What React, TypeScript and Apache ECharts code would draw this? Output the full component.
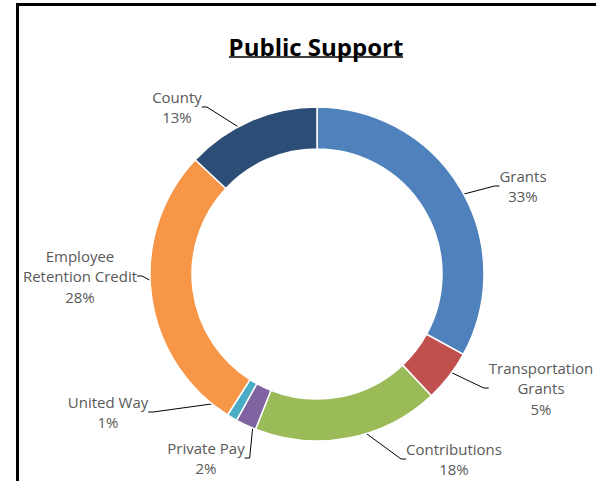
import React, { useEffect, useRef } from "react";
import * as echarts from "echarts";

const categories = [
  "Grants",
  "Transportation Grants",
  "Contributions",
  "Private Pay",
  "United Way",
  "Employee Retention Credit",
  "County",
];
const values = [33, 5, 18, 2, 1, 28, 13];
const colors = ["#4F81BD", "#C0504D", "#9BBB59", "#8064A2", "#4BACC6", "#F79646", "#2C4D75"];
const wrappedNames: Record<string, string> = {
  "Transportation Grants": "Transportation\nGrants",
  "Employee Retention Credit": "Employee\nRetention Credit",
};
// label block centers (layout only)
const labelCenters: [number, number][] = [
  [523, 186],
  [541, 388],
  [454, 459],
  [206, 458],
  [108, 412],
  [80, 276],
  [177, 107],
];

const CENTER: [number, number] = [317, 274];

export default function App() {
  const ref = useRef<HTMLDivElement>(null);
  useEffect(() => {
    if (!ref.current) return;
    const chart = echarts.init(ref.current, undefined, { renderer: "svg" });
    const data = categories.map((name, i) => ({
      name,
      value: values[i],
      itemStyle: { color: colors[i] },
    }));
    chart.setOption({
      animation: false,
      title: {
        text: "Public Support",
        left: 316,
        top: 34,
        padding: 0,
        textAlign: "center",
        textStyle: {
          fontFamily: "Open Sans",
          fontSize: 24,
          fontWeight: "bold",
          color: "#000",
        },
      },
      graphic: [
        {
          type: "rect",
          shape: { x: 17.5, y: 4.5, width: 800, height: 800 },
          style: { fill: "none", stroke: "#000", lineWidth: 3 },
          silent: true,
        },
        {
          type: "line",
          shape: { x1: 229, y1: 57, x2: 403, y2: 57 },
          style: { stroke: "#000", lineWidth: 1.5 },
          silent: true,
        },
      ],
      series: [
        {
          type: "pie",
          center: CENTER,
          radius: [125, 167],
          startAngle: 90,
          clockwise: true,
          silent: true,
          avoidLabelOverlap: false,
          label: { show: false },
          labelLine: { show: false },
          itemStyle: { borderColor: "#fff", borderWidth: 1.5 },
          emphasis: { disabled: true },
          data,
        },
        {
          type: "pie",
          center: CENTER,
          radius: [0, 146],
          startAngle: 90,
          clockwise: true,
          silent: true,
          avoidLabelOverlap: false,
          itemStyle: { color: "rgba(0,0,0,0)" },
          emphasis: { disabled: true },
          label: {
            show: true,
            position: "outside",
            formatter: (p: any) =>
              (wrappedNames[p.name] || p.name) + "\n" + Math.round(p.percent) + "%",
            fontFamily: "Open Sans",
            fontSize: 15,
            lineHeight: 20.5,
            color: "#595959",
            align: "center",
          },
          labelLine: {
            show: true,
            length: 5,
            length2: 5,
            lineStyle: { color: "#000", width: 1 },
          },
          labelLayout: (p: any) => {
            const c = labelCenters[p.dataIndex];
            return { x: c[0], y: c[1], align: "center", verticalAlign: "middle" };
          },
          data: categories.map((name, i) => ({ name, value: values[i] })),
        },
      ],
    });
    return () => chart.dispose();
  }, []);
  return (
    <div
      ref={ref}
      style={{ position: "fixed", left: 0, top: 0, width: 596, height: 481, background: "#fff" }}
    />
  );
}
